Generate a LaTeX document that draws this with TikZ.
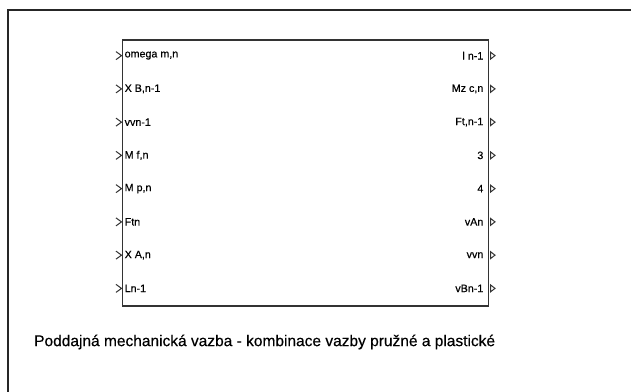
\documentclass[tikz,border=0pt]{standalone}
\usepackage{fontspec}
\setmainfont{Liberation Sans}[FakeBold=0.4]
\begin{document}
\begin{tikzpicture}[x=1bp,y=-1bp,
  frameline/.style={draw=black!85,line width=2bp},
  blockline/.style={draw=black!80,line width=1.6bp},
  portin/.style={font=\fontsize{10.7bp}{12bp}\selectfont,anchor=west,inner sep=0pt},
  portout/.style={font=\fontsize{10.7bp}{12bp}\selectfont,anchor=east,inner sep=0pt},
  arrowline/.style={draw=black!80,line width=1bp,line join=miter},
  captionstyle/.style={font=\fontsize{15.5bp}{16bp}\selectfont,anchor=west,inner sep=0pt}]
\useasboundingbox (0,0) rectangle (631,391);
\fill[white] (0,0) rectangle (631,391);
% outer frame (top and left only visible)
\coordinate (ftl) at (7.5,9.5);
\coordinate (ftr) at (632,9.5);
\coordinate (fbl) at (7.5,392);
\draw[frameline] (ftr) -- (ftl) -- (fbl);
% block
\node[blockline,minimum width=366bp,minimum height=266bp,inner sep=0pt,anchor=north west] (blk) at (121.5,39) {};
% ports
\foreach \i/\lin/\lout in {1/omega m{,}n/l n-1,2/X B{,}n-1/Mz c{,}n,3/vvn-1/Ft{,}n-1,4/M f{,}n/3,5/M p{,}n/4,6/Ftn/vAn,7/X A{,}n/vvn,8/Ln-1/vBn-1}{
  \pgfmathsetmacro{\yy}{39+266*(2*\i-1)/16}
  \coordinate (in\i) at (121.5,\yy);
  \coordinate (out\i) at (487.5,\yy);
  \node[portin] (li\i) at ([xshift=3bp]in\i) {\lin};
  \node[portout] (lo\i) at ([xshift=-4bp]out\i) {\lout};
  \draw[arrowline] ([shift={(-5.5,-4)}]in\i) -- (in\i) -- ([shift={(-5.5,4)}]in\i);
  \draw[arrowline] ([shift={(3,-3.5)}]out\i) -- ([shift={(7.5,0)}]out\i) -- ([shift={(3,3.5)}]out\i) -- cycle;
}
\node[captionstyle] (cap) at (34,342) {Poddajná mechanická vazba - kombinace vazby pružné a plastické};
\end{tikzpicture}
\end{document}
